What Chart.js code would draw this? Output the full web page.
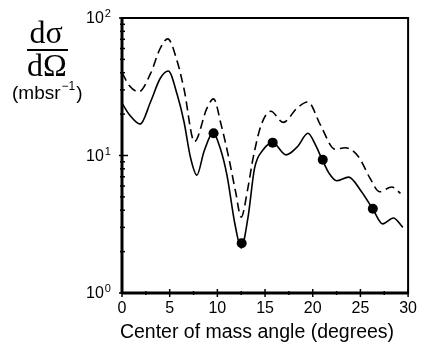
<!DOCTYPE html>
<html><head><meta charset="utf-8">
<script src="https://cdn.jsdelivr.net/npm/chart.js@4/dist/chart.umd.min.js"></script>
<style>html,body{margin:0;padding:0;background:#fff;}#wrap{width:423px;height:354px;position:relative;}</style>
</head><body><div id="wrap"><canvas id="c" width="423" height="354"></canvas></div>
<script>
// Calculation (solid curve)
const solidAngles = [0, 0.8, 1.9, 3.0, 4.0, 4.85, 5.8, 6.5, 7.2, 7.85, 8.6, 9.55, 10.3, 11.0, 11.85, 12.5, 13.2, 13.9, 14.8, 15.8, 17.2, 18.4, 19.5, 20.3, 21.0, 21.7, 22.5, 23.75, 25.1, 26.3, 27.35, 28.45, 29.45];
const solidValues = [24, 19.7, 16.9, 24.6, 36.3, 41.2, 27.5, 17.6, 9.55, 7.2, 10.7, 14.6, 11.3, 7.24, 3.15, 2.13, 3.5, 8.1, 11.0, 12.4, 10.1, 11.6, 14.5, 11.9, 9.3, 7.45, 6.55, 6.96, 5.48, 4.08, 3.18, 3.51, 3.0];
// Calculation (dashed curve)
const dashedAngles = [0, 0.8, 1.75, 3.0, 4.0, 4.8, 5.8, 6.5, 7.6, 8.9, 9.6, 10.4, 11.2, 11.9, 12.5, 13.2, 13.75, 14.6, 15.6, 16.9, 18.4, 19.5, 20.8, 22.35, 23.4, 24.8, 26.0, 27.0, 28.3, 29.2];
const dashedValues = [40, 32, 29.1, 39.5, 60, 70.5, 48, 30.5, 12.6, 22, 25.8, 16.7, 9.6, 5.5, 3.56, 5.8, 9.6, 16.7, 21, 17.4, 22.3, 24.5, 16.7, 11.1, 11.4, 9.8, 6.85, 5.45, 5.9, 5.3];
// Measured points
const dataAngles = [9.6, 12.55, 15.8, 21.05, 26.3];
const dataValues = [14.5, 2.3, 12.4, 9.3, 4.1];
// Axis ticks
const xTickValues = [0, 5, 10, 15, 20, 25, 30];
const yTickValues = [1, 10, 100];
const yTickExponents = ['0', '1', '2'];
const xTitle = 'Center of mass angle (degrees)';

const pts = (xs, ys) => xs.map((x, i) => ({x, y: ys[i]}));

const yMinor = [];
for (let d = 1; d < 100; d *= 10) for (let k = 1; k < 10; k++) yMinor.push(k * d);
yMinor.push(100);

const SANS = '"Liberation Sans", Arial, sans-serif';

const decor = {
  id: 'decor',
  afterDraw(chart) {
    const ctx = chart.ctx, ca = chart.chartArea, xs = chart.scales.x, ys = chart.scales.y;
    ctx.save();
    ctx.strokeStyle = '#000';
    ctx.fillStyle = '#000';
    ctx.lineWidth = 1.5;
    yMinor.forEach(v => {
      const y = ys.getPixelForValue(v);
      const major = yTickValues.includes(v);
      ctx.beginPath(); ctx.moveTo(ca.left - (major ? 3 : 2), y); ctx.lineTo(ca.left + (major ? 6 : 3), y); ctx.stroke();
    });
    for (let i = 0; i < xTickValues.length; i++) {
      const v = xTickValues[i];
      let x = xs.getPixelForValue(v);
      ctx.beginPath(); ctx.moveTo(x, ca.bottom - 4); ctx.lineTo(x, ca.bottom + 4); ctx.stroke();
      if (i < xTickValues.length - 1) {
        x = xs.getPixelForValue((v + xTickValues[i + 1]) / 2);
        ctx.beginPath(); ctx.moveTo(x, ca.bottom - 2); ctx.lineTo(x, ca.bottom + 2); ctx.stroke();
      }
    }
    ctx.lineWidth = 2;
    ctx.strokeRect(ca.left, ca.top, ca.right - ca.left, ca.bottom - ca.top);
    ctx.lineWidth = 3;
    ctx.beginPath(); ctx.moveTo(ca.left, ca.top - 1); ctx.lineTo(ca.left, ca.bottom + 1); ctx.stroke();
    ctx.beginPath(); ctx.moveTo(ca.left, ca.bottom); ctx.lineTo(ca.right, ca.bottom); ctx.stroke();

    // y tick labels: 10 with superscript exponent
    yTickValues.forEach((v, i) => {
      const y = ys.getPixelForValue(v);
      ctx.textAlign = 'left';
      ctx.textBaseline = 'middle';
      ctx.font = '16px ' + SANS;
      ctx.fillText('10', 86, y + 1);
      const w = ctx.measureText('10').width;
      ctx.font = '11px ' + SANS;
      ctx.fillText(yTickExponents[i], 86 + w + 1, y - 4);
    });

    // x title
    ctx.textAlign = 'center';
    ctx.textBaseline = 'middle';
    ctx.font = '19.5px ' + SANS;
    ctx.fillText(xTitle, 257, 333);

    // y title
    ctx.textAlign = 'center';
    ctx.textBaseline = 'alphabetic';
    ctx.font = '32px "Liberation Serif", "Times New Roman", serif';
    ctx.fillText('d\u03C3', 46, 43);
    ctx.fillText('d\u03A9', 47, 76);
    ctx.lineWidth = 2;
    ctx.beginPath(); ctx.moveTo(27, 50); ctx.lineTo(68, 50); ctx.stroke();
    ctx.textAlign = 'left';
    ctx.font = '19px ' + SANS;
    ctx.fillText('(mbsr', 12, 99);
    const w = ctx.measureText('(mbsr').width;
    ctx.font = '12px ' + SANS;
    ctx.fillText('\u22121', 12 + w + 1, 90);
    const w2 = ctx.measureText('\u22121').width;
    ctx.font = '19px ' + SANS;
    ctx.fillText(')', 12 + w + w2 + 2, 99);
    ctx.restore();
  }
};

new Chart(document.getElementById('c'), {
  type: 'line',
  data: {
    datasets: [
      {data: pts(solidAngles, solidValues), borderColor: '#000', borderWidth: 1.6, pointRadius: 0, cubicInterpolationMode: 'monotone', fill: false},
      {data: pts(dashedAngles, dashedValues), borderColor: '#000', borderWidth: 1.6, borderDash: [9, 5], pointRadius: 0, cubicInterpolationMode: 'monotone', fill: false},
      {data: pts(dataAngles, dataValues), showLine: false, pointRadius: 5, pointBackgroundColor: '#000', pointBorderColor: '#000', pointBorderWidth: 0}
    ]
  },
  options: {
    responsive: false,
    animation: false,
    devicePixelRatio: 1,
    layout: {padding: {top: 18, right: 11, left: 0, bottom: 0}},
    plugins: {legend: {display: false}, tooltip: {enabled: false}},
    scales: {
      x: {
        type: 'linear', min: 0, max: 30,
        grid: {display: false, tickLength: 0, drawTicks: false}, border: {display: false},
        afterBuildTicks: s => { s.ticks = xTickValues.map(v => ({value: v})); },
        ticks: {color: '#000', font: {family: SANS, size: 16}, padding: 6, maxRotation: 0, autoSkip: false},
        title: {display: false},
        afterFit: s => { s.height = 61; }
      },
      y: {
        type: 'logarithmic', min: 1, max: 100,
        grid: {display: false}, border: {display: false},
        ticks: {display: false},
        afterFit: s => { s.width = 122; }
      }
    }
  },
  plugins: [decor]
});
</script></body></html>
